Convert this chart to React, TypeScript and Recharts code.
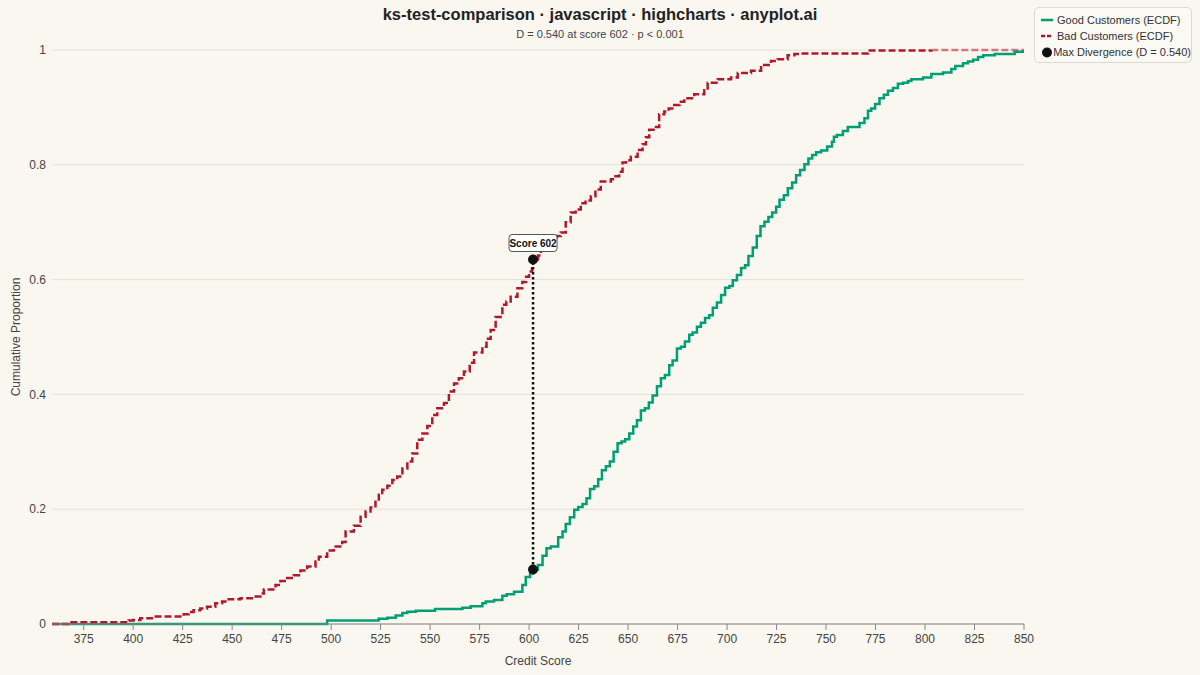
import {LineChart, Line, XAxis, YAxis, CartesianGrid, Scatter, ReferenceLine, Legend, Label} from 'recharts';

// credit score where each ECDF step happens, and the proportion after it
const goodScores = [359, 498, 524, 528.4, 532.6, 536, 538.5, 542.7, 552.5, 566.3, 570.5, 576.4, 578.1, 582.3, 586.5, 588.7,
  592.4, 596.6, 598.3, 600.5, 602, 604.5, 606.8, 608.8, 611, 614.7, 616.9, 618.5, 620.6, 622.8, 624.8, 627, 629, 630.8,
  632.9, 634.9, 636.8, 638.8, 640.8, 642.7, 644.7, 646.7, 648.5, 650.6, 652.6, 654.5, 656.5, 658.5, 660.5, 662.4, 664.6,
  666.6, 668.6, 670.8, 672.5, 674.7, 676.7, 678.7, 680.9, 682.6, 684.8, 686.8, 688.9, 691, 692.8, 694.9, 697, 699, 701.2,
  702.9, 705, 707.1, 709.1, 710.8, 713, 715, 716.9, 718.9, 720.9, 722.8, 724.8, 726.5, 728.7, 730.7, 732.9, 734.9, 736.9,
  739.1, 741.1, 743, 745, 747.5, 750.6, 753, 754, 755.5, 758.5, 761, 766.9, 769.4, 771.2, 772.8, 774.8, 777, 779.2, 781.3,
  783.8, 786.3, 788.9, 791.4, 793.1, 799, 803.2, 809.1, 813.3, 815.3, 819.2, 821.7, 824.3, 826.8, 829.4, 835.2, 845.3, 850];
const goodCdf = [0, 0.006, 0.009, 0.011, 0.015, 0.019, 0.0215, 0.023, 0.026, 0.0285, 0.031, 0.036, 0.039, 0.042, 0.049, 0.052,
  0.056, 0.068, 0.082, 0.088, 0.095, 0.103, 0.119, 0.132, 0.135, 0.151, 0.161, 0.174, 0.186, 0.199, 0.204, 0.209, 0.219, 0.235,
  0.24, 0.252, 0.268, 0.275, 0.283, 0.3, 0.315, 0.318, 0.322, 0.332, 0.344, 0.355, 0.372, 0.376, 0.386, 0.398, 0.414,
  0.428, 0.434, 0.451, 0.459, 0.48, 0.483, 0.492, 0.504, 0.508, 0.518, 0.525, 0.533, 0.538, 0.551, 0.56, 0.573, 0.586, 0.589,
  0.599, 0.608, 0.62, 0.625, 0.641, 0.656, 0.676, 0.693, 0.701, 0.709, 0.717, 0.727, 0.739, 0.747, 0.759, 0.769, 0.782, 0.791,
  0.801, 0.811, 0.817, 0.822, 0.825, 0.832, 0.84, 0.849, 0.852, 0.859, 0.866, 0.873, 0.881, 0.894, 0.898, 0.906, 0.916, 0.922, 0.929,
  0.934, 0.941, 0.943, 0.946, 0.949, 0.952, 0.958, 0.961, 0.967, 0.972, 0.977, 0.98, 0.983, 0.988, 0.991, 0.993, 0.997, 1];

const badScores = [359, 367.3, 397.7, 400, 403.6, 410.3, 425.5, 428, 430.5, 433.9, 437.3, 441.5, 444.9, 448.2, 454.2, 460.9,
  464.3, 466, 471.9, 474.4, 477.8, 481.1, 484.5, 487.9, 492.1, 493.8, 498, 501.4, 505.6, 507.3, 511.5, 514.9, 517.4, 519.9,
  522.4, 524.1, 525.8, 528.4, 530.9, 533.4, 536, 538.5, 541, 543.5, 546.1, 548.6, 551.1, 553.6, 557, 559.5, 562.1, 564.5,
  567.1, 570, 572.2, 576.4, 578.5, 580.6, 583.1, 586.5, 588.5, 590.7, 594.1, 596.6, 598.5, 600, 601.5, 602, 604.5, 606, 609,
  612, 614, 616, 618.5, 621, 623.5, 626.1, 628.5, 631.2, 633.5, 636.2, 641.3, 643, 645.5, 647.2, 649, 651.4, 654.8, 657.3,
  659, 660.7, 664.1, 665.7, 668.3, 670.5, 673.3, 676, 678.4, 683.4, 688.5, 690.2, 695.3, 702, 705.4, 712.1, 717.2, 722.2,
  725.6, 730.6, 734, 737.4, 771.2, 803.2];
const badCdf = [0, 0.003, 0.006, 0.007, 0.01, 0.013, 0.017, 0.021, 0.024, 0.027, 0.03, 0.036, 0.039, 0.043, 0.045, 0.048,
  0.053, 0.06, 0.068, 0.075, 0.08, 0.085, 0.093, 0.1, 0.109, 0.117, 0.128, 0.135, 0.143, 0.161, 0.171, 0.187, 0.196, 0.203,
  0.213, 0.225, 0.234, 0.241, 0.251, 0.257, 0.271, 0.283, 0.297, 0.321, 0.332, 0.345, 0.364, 0.376, 0.385, 0.405, 0.419, 0.428,
  0.44, 0.455, 0.473, 0.483, 0.497, 0.512, 0.535, 0.556, 0.562, 0.57, 0.585, 0.596, 0.605, 0.614, 0.625, 0.635, 0.642, 0.652, 0.66,
  0.668, 0.676, 0.682, 0.7, 0.717, 0.722, 0.733, 0.738, 0.745, 0.757, 0.771, 0.775, 0.78, 0.788, 0.804, 0.808, 0.814, 0.826, 0.836,
  0.848, 0.861, 0.866, 0.888, 0.893, 0.898, 0.904, 0.91, 0.916, 0.923, 0.93, 0.943, 0.949, 0.952, 0.96, 0.964, 0.974, 0.981,
  0.984, 0.991, 0.993, 0.994, 0.999, 1];

// bad ECDF held at 1 past its last observation
const badTailScores = [803.2, 850];
const badTailCdf = [1, 1];

const maxScore = 602;
const maxBad = 0.635;
const maxGood = 0.095;

const xTicks = [375, 400, 425, 450, 475, 500, 525, 550, 575, 600, 625, 650, 675, 700, 725, 750, 775, 800, 825, 850];
const yTicks = [0, 0.2, 0.4, 0.6, 0.8, 1];

const GREEN = '#009E73';
const RED = '#B2182B';
const FONT = '"Liberation Sans", Arial, Helvetica, sans-serif';

const good = goodScores.map((x, i) => ({x, y: goodCdf[i]}));
const bad = badScores.map((x, i) => ({x, y: badCdf[i]}));
const badTail = badTailScores.map((x, i) => ({x, y: badTailCdf[i]}));
const divergence = [
  {x: maxScore, y: maxBad, tag: `Score ${maxScore}`},
  {x: maxScore, y: maxGood},
];

const DivergenceDot = (props: any) => {
  const {cx, cy, payload} = props;
  return (
    <g>
      <circle cx={cx} cy={cy} r={5} fill="#111"/>
      {payload.tag && (
        <g>
          <rect x={cx - 24} y={cy - 25} width={48} height={17} rx={3} fill="#fff" stroke="#555" strokeWidth={1}/>
          <text x={cx} y={cy - 13} textAnchor="middle" fontSize={10} fontWeight="bold" fill="#111" fontFamily={FONT}>
            {payload.tag}
          </text>
        </g>
      )}
    </g>
  );
};

const LegendBox = () => (
  <div style={{
    boxSizing: 'border-box', width: 158, height: 56, whiteSpace: 'nowrap',
    background: '#fbf9f4', border: '1px solid #dddad2', borderRadius: 5, padding: '4px 0 0 6px',
    fontFamily: FONT, fontSize: 11, color: '#333', lineHeight: '16px',
  }}>
    <div style={{display: 'flex', alignItems: 'center'}}>
      <svg width={16} height={10}><line x1={0} y1={5} x2={12} y2={5} stroke={GREEN} strokeWidth={2.5}/></svg>
      <span>Good Customers (ECDF)</span>
    </div>
    <div style={{display: 'flex', alignItems: 'center'}}>
      <svg width={16} height={10}><line x1={0} y1={5} x2={12} y2={5} stroke={RED} strokeWidth={2.5} strokeDasharray="4 2"/></svg>
      <span>Bad Customers (ECDF)</span>
    </div>
    <div style={{display: 'flex', alignItems: 'center'}}>
      <svg width={16} height={11}><circle cx={6} cy={5.5} r={5} fill="#111"/></svg>
      <span>Max Divergence (D = 0.540)</span>
    </div>
  </div>
);

const App = () => {
  return (
    <div style={{position: 'absolute', left: 0, top: 0, width: 1200, height: 675, background: '#faf7f1', fontFamily: FONT}}>
      <div style={{position: 'absolute', top: 5, width: 1200, textAlign: 'center', fontSize: 16.5, fontWeight: 'bold', color: '#222'}}>
        ks-test-comparison · javascript · highcharts · anyplot.ai
      </div>
      <div style={{position: 'absolute', top: 28, width: 1200, textAlign: 'center', fontSize: 11, color: '#444'}}>
        D = 0.540 at score 602 · p &lt; 0.001
      </div>
      <LineChart width={1200} height={675} margin={{top: 50, right: 176, bottom: 0, left: 0}}
                 style={{position: 'absolute', left: 0, top: 0}}>
        <CartesianGrid vertical={false} stroke="#e4e0d6" strokeWidth={1}/>
        <XAxis type="number" dataKey="x" domain={[359, 850]} ticks={xTicks} allowDataOverflow height={51}
               tick={{fontSize: 12, fill: '#444', fontFamily: FONT}} stroke="#888" tickSize={6} tickMargin={4}>
          <Label value="Credit Score" position="insideBottom" offset={10} style={{fontSize: 12, fill: '#444', fontFamily: FONT}}/>
        </XAxis>
        <YAxis type="number" dataKey="y" domain={[0, 1]} ticks={yTicks} width={52} axisLine={false} tickLine={false}
               tick={{fontSize: 12, fill: '#444', fontFamily: FONT}} tickMargin={0}>
          <Label value="Cumulative Proportion" angle={-90} position="insideLeft" offset={16}
                 style={{fontSize: 12, fill: '#444', fontFamily: FONT, textAnchor: 'middle'}}/>
        </YAxis>
        <Line data={badTail} dataKey="y" type="stepAfter" stroke={RED} strokeOpacity={0.55} strokeWidth={2.5}
              strokeDasharray="7 3" dot={false} isAnimationActive={false} legendType="none"/>
        <Line data={good} dataKey="y" type="stepAfter" stroke={GREEN} strokeWidth={2.5} dot={false}
              isAnimationActive={false} name="Good Customers (ECDF)"/>
        <Line data={bad} dataKey="y" type="stepAfter" stroke={RED} strokeWidth={2.5} strokeDasharray="7 3" dot={false}
              isAnimationActive={false} name="Bad Customers (ECDF)"/>
        <ReferenceLine segment={[{x: maxScore, y: maxGood}, {x: maxScore, y: maxBad}]} stroke="#111" strokeWidth={2.5}
                       strokeDasharray="2.5 2.5"/>
        <Scatter data={divergence} dataKey="y" fill="#111" shape={DivergenceDot} isAnimationActive={false}
                 name="Max Divergence (D = 0.540)"/>
        <Legend content={LegendBox} layout="horizontal" align="center" verticalAlign="middle"
                wrapperStyle={{left: 1034, top: 7, width: 'auto', height: 'auto'}}/>
      </LineChart>
    </div>
  );
};

export default App;
